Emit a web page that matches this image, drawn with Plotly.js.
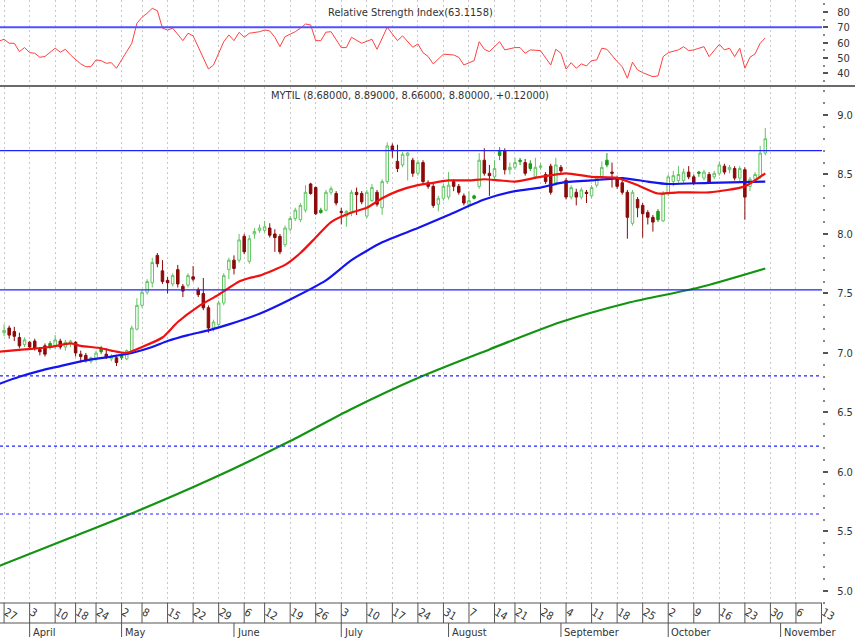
<!DOCTYPE html>
<html><head><meta charset="utf-8">
<script src="https://cdn.plot.ly/plotly-3.0.1.min.js"></script>
<style>html,body{margin:0;padding:0;background:#fff}#chart{width:855px;height:639px}</style>
</head><body><div id="chart"></div>
<script>
const FONT = '"Liberation Sans Narrow","Arial Narrow","DejaVu Sans Condensed",sans-serif';

// ---- daily OHLC (trading day index 0 = 27 Mar 2017) ----
const openP = [7.17,7.21,7.18,7.13,7.07,7.09,7.10,7.03,7.06,7.08, 7.06,7.10,7.05,7.08,7.09,6.99,6.98,6.93,6.95,7.04, 6.99,6.95,6.96,6.98,6.95,7.01,7.20,7.40,7.51,7.59, 7.82,7.69,7.61,7.58,7.70,7.56,7.57,7.64,7.53,7.50, 7.38,7.21,7.24,7.42,7.70,7.78,7.78,7.98,7.77,8.00, 8.03,8.03,8.05,8.00,7.98,7.91,8.04,8.13,8.12,8.20, 8.42,8.39,8.20,8.20,8.35,8.34,8.19,8.15,8.18,8.35, 8.34,8.15,8.28,8.35,8.22,8.44,8.74,8.61,8.58,8.66, 8.62,8.51,8.60,8.43,8.40,8.25,8.30,8.31,8.44,8.40, 8.32,8.25,8.32,8.40,8.62,8.51,8.48,8.70,8.70,8.54, 8.56,8.62,8.60,8.59,8.48,8.56,8.50,8.57,8.43,8.56, 8.45,8.31,8.35,8.31,8.35,8.32,8.41,8.48,8.62,8.52, 8.47,8.43,8.35,8.09,8.29,8.24,8.18,8.14,8.19,8.11, 8.34,8.44,8.45,8.45,8.52,8.48,8.52,8.47,8.50,8.48, 8.51,8.57,8.54,8.55,8.47,8.54,8.40,8.46,8.48,8.68];
const highP = [7.24,7.23,7.22,7.17,7.13,7.10,7.12,7.05,7.08,7.10, 7.15,7.12,7.11,7.11,7.10,7.02,7.00,6.97,7.02,7.06, 7.04,6.99,6.98,7.00,7.03,7.23,7.46,7.53,7.62,7.80, 7.84,7.78,7.64,7.67,7.74,7.58,7.67,7.73,7.55,7.63, 7.40,7.28,7.44,7.67,7.80,7.82,8.00,8.00,7.99,8.05, 8.08,8.11,8.09,8.04,8.00,8.07,8.15,8.22,8.26,8.41, 8.43,8.40,8.22,8.37,8.40,8.36,8.22,8.20,8.37,8.39, 8.36,8.37,8.42,8.37,8.46,8.77,8.76,8.75,8.69,8.69, 8.64,8.62,8.62,8.45,8.42,8.32,8.42,8.52,8.46,8.42, 8.34,8.36,8.33,8.68,8.72,8.58,8.62,8.73,8.72,8.60, 8.64,8.64,8.63,8.62,8.64,8.59,8.52,8.59,8.64,8.58, 8.47,8.41,8.38,8.39,8.37,8.41,8.49,8.61,8.68,8.60, 8.49,8.45,8.37,8.37,8.31,8.26,8.20,8.16,8.21,8.36, 8.50,8.53,8.57,8.55,8.57,8.50,8.53,8.54,8.52,8.53, 8.61,8.59,8.58,8.57,8.57,8.56,8.48,8.52,8.74,8.89];
const lowP = [7.14,7.12,7.10,7.04,7.05,7.03,7.02,6.98,6.97,7.03, 7.03,7.03,7.02,7.05,6.97,6.92,6.92,6.91,6.93,6.99, 6.95,6.93,6.89,6.94,6.94,7.00,7.19,7.38,7.49,7.55, 7.72,7.58,7.50,7.56,7.55,7.47,7.55,7.60,7.47,7.36, 7.17,7.18,7.22,7.40,7.62,7.66,7.76,7.83,7.75,7.96, 8.01,8.01,7.97,7.85,7.83,7.89,8.02,8.11,8.10,8.18, 8.33,8.16,8.17,8.19,8.33,8.24,8.08,8.06,8.15,8.16, 8.25,8.13,8.27,8.23,8.16,8.42,8.64,8.52,8.56,8.45, 8.48,8.49,8.42,8.38,8.22,8.19,8.28,8.29,8.36,8.33, 8.24,8.23,8.29,8.38,8.49,8.32,8.46,8.62,8.50,8.50, 8.54,8.58,8.49,8.53,8.46,8.54,8.42,8.33,8.41,8.50, 8.29,8.29,8.24,8.29,8.26,8.30,8.39,8.46,8.56,8.39, 8.38,8.33,7.96,8.07,8.14,7.97,8.08,8.02,8.10,8.10, 8.32,8.40,8.43,8.43,8.46,8.41,8.48,8.45,8.42,8.46, 8.49,8.50,8.51,8.45,8.44,8.12,8.36,8.44,8.46,8.66];
const closeP = [7.19,7.15,7.14,7.06,7.11,7.05,7.04,7.01,6.99,7.05, 7.11,7.05,7.09,7.10,7.00,6.97,6.94,6.96,7.00,7.01, 6.96,6.97,6.92,6.96,7.02,7.21,7.40,7.51,7.60,7.76, 7.75,7.60,7.59,7.65,7.58,7.52,7.65,7.62,7.49,7.38, 7.21,7.26,7.42,7.65,7.78,7.71,7.95,7.85,7.96,8.02, 8.05,8.06,7.99,7.97,7.85,8.05,8.13,8.20,8.24,8.35, 8.34,8.17,8.18,8.35,8.38,8.26,8.18,8.19,8.35,8.33, 8.27,8.35,8.39,8.25,8.44,8.74,8.70,8.55,8.67,8.68, 8.51,8.60,8.44,8.40,8.24,8.30,8.40,8.41,8.40,8.35, 8.26,8.28,8.30,8.62,8.51,8.49,8.55,8.66,8.54,8.56, 8.60,8.61,8.51,8.55,8.56,8.57,8.44,8.35,8.58,8.53, 8.31,8.39,8.31,8.37,8.34,8.39,8.47,8.56,8.58,8.51, 8.40,8.35,8.14,8.35,8.22,8.17,8.14,8.10,8.12,8.34, 8.48,8.49,8.50,8.52,8.48,8.43,8.51,8.52,8.43,8.51, 8.58,8.52,8.56,8.47,8.55,8.31,8.46,8.50,8.68,8.80];

// ---- moving averages (at sample days) ----
const maRedDays   = [-1,4,9,13,15,19,21,24,27,31,34,38,42,46,48,50,55,58,61,64,68,71,74,77,81,84,87,91,94,97,100,105,110,115,120,124,128,132,138,145,149];
const maRedVals   = [7.01,7.03,7.05,7.08,7.06,7.04,7.02,7.00,7.05,7.13,7.26,7.39,7.49,7.60,7.63,7.65,7.74,7.84,7.97,8.10,8.18,8.22,8.30,8.36,8.41,8.43,8.45,8.45,8.46,8.45,8.44,8.48,8.51,8.48,8.47,8.41,8.34,8.35,8.35,8.40,8.51];
const maBlueDays  = [-1,3,7,11,15,21,25,29,32,36,40,44,50,56,63,68,74,81,87,94,100,105,109,115,121,126,130,138,149];
const maBlueVals  = [6.74,6.80,6.85,6.89,6.93,6.97,7.00,7.05,7.10,7.15,7.19,7.24,7.33,7.45,7.61,7.78,7.93,8.05,8.16,8.29,8.36,8.39,8.43,8.45,8.47,8.44,8.42,8.43,8.44];
const maGreenDays = [-1,12,26,40,56,68,81,95,109,122,136,149];
const maGreenVals = [5.21,5.43,5.67,5.93,6.26,6.53,6.79,7.03,7.26,7.42,7.55,7.71];

// ---- RSI ----
const rsiDays = [-1,0,1,2,3,4,5,6,7,8,10,11,12,13,15,16,17,18,19,20,21,22,23,25,26,27,28,29,30,31,32,33,35,36,37,38,40,41,43,44,45,46,47,48,50,51,52,53,54,55,57,58,59,60,61,62,63,64,66,67,68,70,72,73,75,77,78,80,81,82,83,84,86,88,89,90,92,93,94,95,97,98,100,101,102,103,105,107,108,109,110,111,112,113,114,115,116,117,118,120,121,122,123,124,125,127,128,129,130,132,133,134,135,137,138,140,141,142,143,144,145,146,147,148,149];
const rsiVals = [61.0,62.2,59.6,59.6,54.2,56.8,53.5,53.1,50.5,51.0,56.4,53.8,55.7,52.0,46.2,44.4,44.4,48.8,48.3,46.6,47.0,43.4,48.8,59.6,72.6,76.5,79.1,82.3,80.8,69.4,68.2,69.4,61.3,66.1,64.4,57.4,42.9,45.5,60.6,65.0,61.3,66.7,63.5,66.1,67.1,68.2,67.6,63.5,57.4,63.9,67.1,69.4,72.1,71.5,61.3,61.3,66.8,67.1,56.8,56.8,63.5,59.6,62.2,55.7,70.0,61.3,64.4,57.0,59.2,53.5,51.0,46.2,52.5,52.0,50.5,45.5,48.3,60.6,55.7,54.2,60.6,55.3,56.8,56.8,53.1,55.3,54.8,45.5,55.7,53.1,42.9,47.0,43.4,46.2,44.9,48.3,48.8,56.4,55.7,47.7,44.4,36.9,47.3,42.3,40.5,37.9,38.4,50.9,53.5,55.3,57.4,54.8,55.3,57.4,50.9,58.9,55.3,56.4,50.9,56.4,43.4,50.5,52.7,59.6,63.1];
const rsiLastText = '63.1158';
const rsiLevels = [70];

// ---- horizontal levels ----
const solidLevels = [8.70, 7.53];
const dottedLevels = [6.807, 6.218, 5.647];

// ---- axis labels ----
const weekTickDays = [0,5,10,14,18,23,27,32,37,42,47,51,56,61,66,71,76,81,86,91,96,100,105,110,115,120,125,130,135,140,145,150,155,160];
const weekTickLabels = ['27','3','10','18','24','2','8','15','22','29','6','12','19','26','3','10','17','24','31','7','14','21','28','4','11','18','25','2','9','16','23','30','6','13'];
const monthDays = [5,23,45,66,87,109,130,152];
const monthNames = ['April','May','June','July','August','September','October','November'];
const priceTicks = [5.0,5.5,6.0,6.5,7.0,7.5,8.0,8.5,9.0];
const rsiTicks = [40,50,60,70,80];
const titleText = 'MYTIL (8.68000, 8.89000, 8.66000, 8.80000, +0.12000)';

// ---- geometry ----
const W = 855, H = 639, ML = 0, MR = 33, MT = 0, MB = 36;
const plotH = H - MT - MB;
const rsiBottomPx = 85, priceTopPx = 87;
const days = openP.map((_, i) => i);

// group candles: hollow if close>open, green if close >= prev close
const groups = {hg: [], hr: [], fg: [], fr: []};
days.forEach(i => {
  const up = closeP[i] > openP[i];
  const gr = i === 0 || closeP[i] >= closeP[i - 1];
  groups[(up ? 'h' : 'f') + (gr ? 'g' : 'r')].push(i);
});
const GREEN_LINE = '#62c462', RED_FILL = '#8b0a0a', GREEN_FILL = '#1a9a1a';
function candle(idx, incLine, incFill, decLine, decFill) {
  return {
    type: 'candlestick', xaxis: 'x', yaxis: 'y', hoverinfo: 'skip',
    x: idx, open: idx.map(i => openP[i]), high: idx.map(i => highP[i]),
    low: idx.map(i => lowP[i]), close: idx.map(i => closeP[i]),
    increasing: {line: {color: incLine, width: 1}, fillcolor: incFill},
    decreasing: {line: {color: decLine, width: 1}, fillcolor: decFill},
    whiskerwidth: 0, showlegend: false
  };
}
const traces = [
  candle(groups.hg, GREEN_LINE, '#ffffff', GREEN_LINE, '#ffffff'),
  candle(groups.hr, '#b03030', '#ffffff', '#b03030', '#ffffff'),
  candle(groups.fg, GREEN_FILL, GREEN_FILL, GREEN_FILL, GREEN_FILL),
  candle(groups.fr, RED_FILL, RED_FILL, RED_FILL, RED_FILL),
  {type: 'scatter', mode: 'lines', x: maGreenDays, y: maGreenVals, xaxis: 'x', yaxis: 'y', line: {color: '#129412', width: 2.2, shape: 'spline', smoothing: 0.8}, hoverinfo: 'skip', showlegend: false},
  {type: 'scatter', mode: 'lines', x: maBlueDays, y: maBlueVals, xaxis: 'x', yaxis: 'y', line: {color: '#1414f0', width: 2.2, shape: 'spline', smoothing: 0.6}, hoverinfo: 'skip', showlegend: false},
  {type: 'scatter', mode: 'lines', x: maRedDays, y: maRedVals, xaxis: 'x', yaxis: 'y', line: {color: '#f01010', width: 2.2, shape: 'spline', smoothing: 0.6}, hoverinfo: 'skip', showlegend: false},
  {type: 'scatter', mode: 'lines', x: rsiDays, y: rsiVals, xaxis: 'x2', yaxis: 'y2', line: {color: '#ff4040', width: 1}, hoverinfo: 'skip', showlegend: false}
];

const tickFont = {family: FONT, size: 11, color: '#333'};
const boxBottom = -20 / plotH, monthBottom = -34 / plotH;
const shapes = [];
solidLevels.forEach(v => shapes.push({type: 'line', xref: 'paper', x0: 0, x1: 1, yref: 'y', y0: v, y1: v, line: {color: '#2020ff', width: 1.2}}));
dottedLevels.forEach(v => shapes.push({type: 'line', xref: 'paper', x0: 0, x1: 1, yref: 'y', y0: v, y1: v, line: {color: '#2020ff', width: 1.2, dash: 'dot'}}));
rsiLevels.forEach(v => shapes.push({type: 'line', xref: 'paper', x0: 0, x1: 1, yref: 'y2', y0: v, y1: v, line: {color: '#5050ff', width: 2}}));
// panel separator
shapes.push({type: 'line', xref: 'paper', x0: 0, x1: W / (W - MR), yref: 'paper', y0: 1 - 86 / plotH, y1: 1 - 86 / plotH, line: {color: '#6a6a6a', width: 2}});
// date label box
shapes.push({type: 'line', xref: 'paper', x0: 0, x1: 1, yref: 'paper', y0: 0, y1: 0, line: {color: '#555', width: 1}});
shapes.push({type: 'line', xref: 'paper', x0: 0, x1: 1, yref: 'paper', y0: boxBottom, y1: boxBottom, line: {color: '#555', width: 1}});
weekTickDays.forEach(d => shapes.push({type: 'line', xref: 'x', x0: d, x1: d, yref: 'paper', y0: 0, y1: boxBottom, line: {color: '#555', width: 1}}));
monthDays.forEach(d => shapes.push({type: 'line', xref: 'x', x0: d, x1: d, yref: 'paper', y0: boxBottom, y1: monthBottom, line: {color: '#555', width: 1}}));

const annotations = monthNames.map((m, k) => ({
  xref: 'x', yref: 'paper', x: monthDays[k], y: boxBottom, xanchor: 'left', yanchor: 'top',
  xshift: 1, yshift: -1, text: m, showarrow: false, font: tickFont
}));
annotations.push({xref: 'paper', yref: 'paper', x: 410 / (W - MR), y: 1 - 12 / plotH, xanchor: 'center', yanchor: 'middle', text: 'Relative Strength Index(' + rsiLastText + ')', showarrow: false, font: tickFont});
annotations.push({xref: 'paper', yref: 'paper', x: 410 / (W - MR), y: 1 - 96 / plotH, xanchor: 'center', yanchor: 'middle', text: titleText, showarrow: false, font: tickFont});

const gridCommon = {showgrid: true, gridcolor: '#c8c8c8', griddash: '2px,3px', gridwidth: 1, zeroline: false, showline: false,
  tickmode: 'array', tickvals: weekTickDays, ticktext: weekTickLabels};
const layout = {
  width: W, height: H, margin: {l: ML, r: MR, t: MT, b: MB, pad: 0},
  paper_bgcolor: '#ffffff', plot_bgcolor: '#ffffff', showlegend: false, dragmode: false,
  xaxis: Object.assign({}, gridCommon, {domain: [0, 1], anchor: 'y', range: [-0.8, 160.1], ticks: '',
    ticklabelposition: 'outside right', ticklabeloverflow: 'allow', ticklabelshift: 2, tickfont: tickFont, rangeslider: {visible: false}}),
  xaxis2: Object.assign({}, gridCommon, {domain: [0, 1], anchor: 'y2', matches: 'x', showticklabels: false, ticks: ''}),
  yaxis: {domain: [0, 1 - priceTopPx / plotH], range: [4.899, 9.235], side: 'right', anchor: 'x',
    tickmode: 'array', tickvals: priceTicks, tickformat: '.1f', ticks: 'outside', ticklen: 5, tickwidth: 2, tickcolor: '#555',
    minor: {dtick: 0.1, tick0: 5, ticks: 'outside', ticklen: 2, tickcolor: '#888'},
    ticklabelstandoff: 7, showgrid: false, zeroline: false, showline: false, tickfont: tickFont},
  yaxis2: {domain: [1 - rsiBottomPx / plotH, 1], range: [32.5, 87.7], side: 'right', anchor: 'x2',
    tickmode: 'array', tickvals: rsiTicks, ticks: 'outside', ticklen: 5, tickwidth: 2, tickcolor: '#555',
    minor: {dtick: 5, tick0: 35, ticks: 'outside', ticklen: 2, tickcolor: '#888'},
    ticklabelstandoff: 7, showgrid: false, zeroline: false, showline: false, tickfont: tickFont},
  shapes: shapes, annotations: annotations
};
Plotly.newPlot('chart', traces, layout, {displayModeBar: false, staticPlot: true});
</script></body></html>
